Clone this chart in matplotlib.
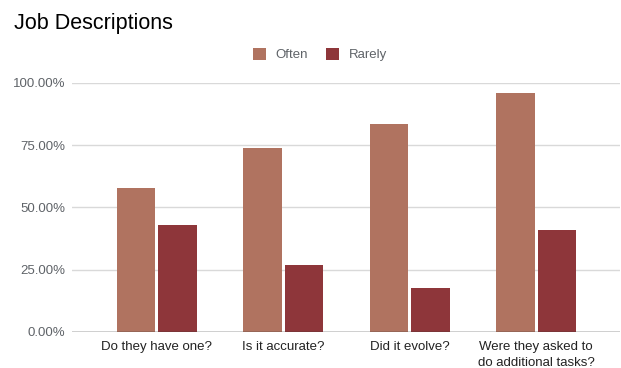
import matplotlib.pyplot as plt
import numpy as np

# Data
categories = ['Do they have one?', 'Is it accurate?', 'Did it evolve?',
              'Were they asked to\ndo additional tasks?']
often = [57.9, 73.7, 83.6, 95.8]
rarely = [43.0, 27.0, 17.5, 41.0]
yticks = [0, 25, 50, 75, 100]

plt.rcParams['font.family'] = ['Liberation Sans', 'DejaVu Sans']

fig = plt.figure(figsize=(6.21, 3.68), dpi=100)
ax = fig.add_axes([0.116, 0.0986, 0.882, 0.676])

x = np.arange(len(categories))
w = 0.304
off = 0.163
ax.bar(x - off, often, w, color='#b07360', label='Often', zorder=3)
ax.bar(x + off, rarely, w, color='#8e363a', label='Rarely', zorder=3)

ax.set_xlim(-0.67, 3.66)
ax.set_ylim(0, 100)
ax.set_yticks(yticks)
ax.set_yticklabels(['{:.2f}%'.format(v) for v in yticks])
ax.set_xticks(x)
ax.set_xticklabels(categories, fontsize=9.5, color='#222222', linespacing=1.45)
ax.tick_params(axis='y', labelsize=9.5, labelcolor='#5f6368', length=0, pad=5)
ax.tick_params(axis='x', length=0, pad=7)

ax.grid(axis='y', color='#d9d9d9', linewidth=1, zorder=0)
ax.axhline(0, color='#333333', linewidth=1, zorder=4)
for s in ax.spines.values():
    s.set_visible(False)

fig.text(0.023, 0.937, 'Job Descriptions', fontsize=15.5, color='#000000',
         ha='left', va='center')

fig.legend(loc='center', bbox_to_anchor=(0.515, 0.852), ncol=2, frameon=False,
           fontsize=9.5, labelcolor='#5f6368', handlelength=1.0, handleheight=1.0,
           columnspacing=1.4, handletextpad=0.7)

fig.savefig('out.png', dpi=100)
